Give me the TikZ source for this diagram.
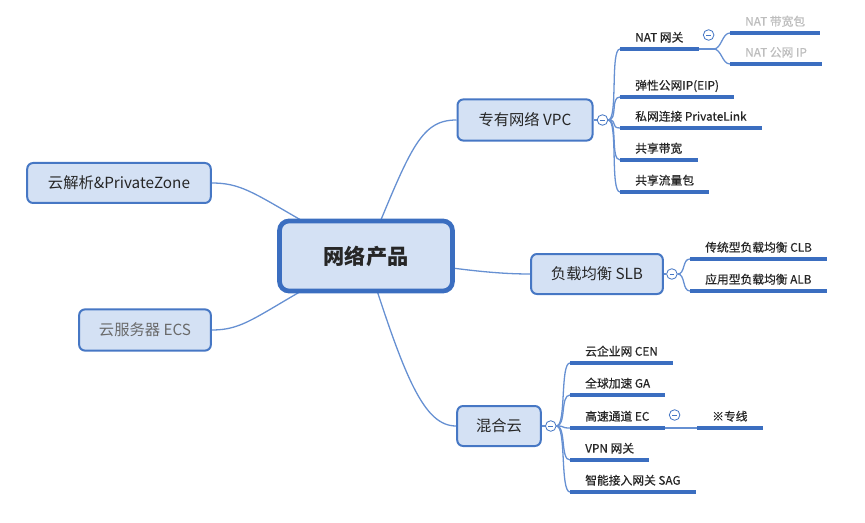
\documentclass[tikz,border=0pt]{standalone}
\usepackage{fontspec}
\setmainfont{Noto Sans CJK SC}
\newfontfamily\medfont[FakeBold=0.6]{Noto Sans CJK SC}
\usetikzlibrary{calc,backgrounds}
\definecolor{mmblue}{HTML}{4677C4}
\definecolor{mmdark}{HTML}{3B6EC0}
\definecolor{mmline}{HTML}{6690D2}
\definecolor{mmfill}{HTML}{D4E1F4}
\definecolor{mmtext}{HTML}{262626}
\definecolor{mmgray}{HTML}{6A6A6A}
\definecolor{mmlight}{HTML}{BDBDBD}

\begin{document}
\begin{tikzpicture}[x=0.85pt,y=-0.85pt,
  topic/.style={draw=mmblue,line width=1.7pt,fill=mmfill,rounded corners=5pt,
                text=mmtext,inner sep=0pt,font=\fontsize{13}{15}\selectfont},
  hubbox/.style={topic,draw=mmdark,line width=4pt,rounded corners=8pt,font=\fontsize{18}{21}\selectfont\bfseries},
  fold/.style={circle,draw=mmblue,line width=0.7pt,fill=white,minimum size=9pt,inner sep=0pt,
               path picture={\draw[mmblue,line width=0.6pt]
                 ([xshift=-2pt]path picture bounding box.center)--([xshift=2pt]path picture bounding box.center);}},
  leaf/.style={anchor=south west,inner xsep=12.75pt,inner ysep=4pt,text height=7.5pt,text depth=2pt,
               text=mmtext,font=\medfont\fontsize{10}{12}\selectfont},
  under/.style={mmdark,line width=2.9pt},
  branch/.style={mmline,line width=1.1pt}]

\useasboundingbox (0,0) rectangle (865,523);

% ===== topics =====
\node[hubbox,minimum width=147pt,minimum height=59.5pt] (hub) at (366,256) {网络产品};
\node[topic,minimum width=156pt,minimum height=34pt] (pz) at (119,183) {云解析\&PrivateZone};
\node[topic,minimum width=112pt,minimum height=35pt,text=mmgray] (ecs) at (145,330) {云服务器 ECS};
\node[topic,minimum width=114.75pt,minimum height=35pt] (vpc) at (525,120) {专有网络 VPC};
\node[topic,minimum width=112pt,minimum height=34pt] (slb) at (597,274) {负载均衡 SLB};
\node[topic,minimum width=71pt,minimum height=34pt] (hyb) at (499,426) {混合云};

% ===== hub connectors =====
\begin{scope}[on background layer]
\draw[branch] (hub.center) .. controls +(44,-106) and +(-37,0) .. (vpc.west);
\draw[branch] (hub.center) .. controls +(84,12) and +(-41,0) .. (slb.west);
\draw[branch] (hub.center) .. controls +(39,124) and +(-32,0) .. (hyb.west);
\draw[branch] (hub.center) .. controls +(-106,-56) and +(38,0) .. (pz.east);
\draw[branch] (hub.center) .. controls +(-106,54) and +(38,0) .. (ecs.east);
\end{scope}

% ===== VPC =====
\node[fold] (vpcf) at ($(vpc.east)+(9,0)$) {};
\draw[branch] (vpc.east) -- (vpcf.west);
\node[leaf] (nat) at (620,49) {NAT 网关};
\node[leaf] (eip) at (620,97) {弹性公网IP(EIP)};
\node[leaf] (plink) at (620,128) {私网连接 PrivateLink};
\node[leaf] (sbw) at (620,160) {共享带宽};
\node[leaf] (sdp) at (620,192) {共享流量包};
\foreach \n in {nat,eip,plink,sbw,sdp}
  \draw[branch] (vpcf.east) .. controls +(10,0) and +(-10,0) .. (\n.south west);

% NAT children
\coordinate (natj) at ($(nat.south east)+(15,0)$);
\node[fold] (natf) at ($(nat.south east)+(10,-14)$) {};
\node[leaf,text=mmlight] (natbw) at (730,33) {NAT 带宽包};
\node[leaf,text=mmlight] (natip) at (730,64) {NAT 公网 IP};
\draw[branch] (nat.south east) -- (natj);
\foreach \n in {natbw,natip}
  \draw[branch] (natj) .. controls +(8,0) and +(-8,0) .. (\n.south west);

% ===== SLB =====
\node[fold] (slbf) at ($(slb.east)+(8,0)$) {};
\draw[branch] (slb.east) -- (slbf.west);
\node[leaf] (clb) at (690,259) {传统型负载均衡 CLB};
\node[leaf] (alb) at (690,291) {应用型负载均衡 ALB};
\foreach \n in {clb,alb}
  \draw[branch] (slbf.east) .. controls +(8,0) and +(-8,0) .. (\n.south west);

% ===== hybrid cloud =====
\node[fold] (hybf) at ($(hyb.east)+(9,0)$) {};
\draw[branch] (hyb.east) -- (hybf.west);
\node[leaf] (cen) at (570,363) {云企业网 CEN};
\node[leaf] (ga) at (570,395) {全球加速 GA};
\node[leaf] (ec) at (570,428) {高速通道 EC};
\node[leaf] (vpn) at (570,460) {VPN 网关};
\node[leaf] (sag) at (570,492) {智能接入网关 SAG};
\foreach \n in {cen,ga,ec,vpn,sag}
  \draw[branch] (hybf.east) .. controls +(10,0) and +(-10,0) .. (\n.south west);

% EC child
\node[fold] (ecf) at ($(ec.south east)+(10,-13)$) {};
\node[leaf] (zx) at (697,428) {※专线};
\draw[branch] (ec.south east) -- (zx.south west);

% ===== underlines =====
\foreach \n in {nat,eip,plink,sbw,sdp,natbw,natip,clb,alb,cen,ga,ec,vpn,sag,zx}
  \draw[under] (\n.south west) -- (\n.south east);

\end{tikzpicture}
\end{document}
